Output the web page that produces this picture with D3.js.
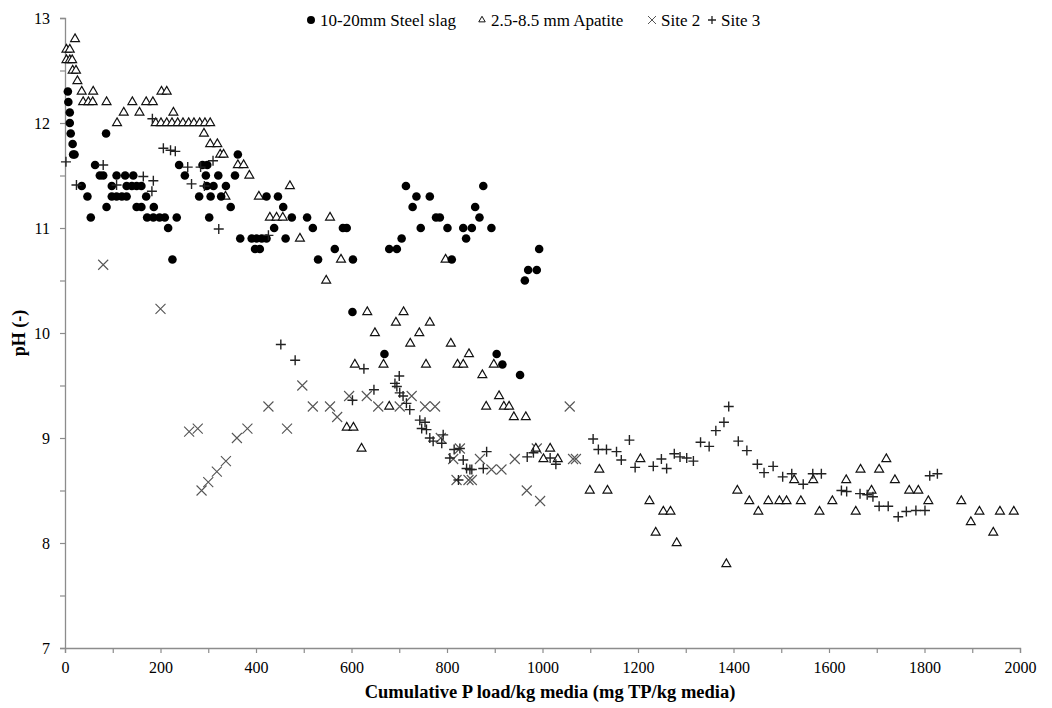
<!DOCTYPE html>
<html>
<head>
<meta charset="utf-8">
<script src="https://cdn.jsdelivr.net/npm/d3@7"></script>
<style>
  body { margin: 0; background: #fff; }
  text { font-family: "Liberation Serif", "Times New Roman", serif; }
</style>
</head>
<body>
<div id="vizDiv"></div>
<script>
var width = 1052;
var height = 708;

// plot area
var plotLeft = 65, plotRight = 1020, plotTop = 18, plotBottom = 648;

var xTicks = [0, 200, 400, 600, 800, 1000, 1200, 1400, 1600, 1800, 2000];
var yTicks = [7, 8, 9, 10, 11, 12, 13];
var legendNames = ["10-20mm Steel slag", "2.5-8.5 mm Apatite", "Site 2", "Site 3"];

// [cumulative P load, pH]
var steelSlag = [
  [6,12.3],[7,12.2],[10,12.1],[10,12.0],[12,11.9],[16,11.8],[17,11.7],[20,11.7],
  [35,11.4],[47,11.3],[54,11.1],[63,11.6],[73,11.5],[80,11.5],[86,11.9],[87,11.2],[98,11.4],
  [98,11.3],[108,11.3],[119,11.3],[129,11.3],[108,11.5],[126,11.5],[143,11.5],
  [129,11.4],[140,11.4],[150,11.4],[160,11.4],[170,11.3],[150,11.2],[160,11.2],[186,11.2],
  [172,11.1],[185,11.1],[198,11.1],[209,11.1],[216,11.0],[225,10.7],[234,11.1],
  [239,11.6],[251,11.5],[288,11.6],[298,11.6],[295,11.5],[321,11.5],[297,11.4],[311,11.4],[337,11.4],
  [281,11.3],[305,11.3],[327,11.3],[302,11.1],[347,11.2],[356,11.5],[362,11.7],
  [367,10.9],[391,10.9],[401,10.9],[412,10.9],[422,10.9],[398,10.8],[408,10.8],
  [422,11.3],[446,11.3],[457,11.2],[475,11.1],[438,11.0],[462,10.9],[507,11.1],[519,11.0],[530,10.7],
  [565,10.8],[582,11.0],[590,11.0],[603,10.7],[602,10.2],
  [669,9.8],[679,10.8],[695,10.8],[705,10.9],[714,11.4],[728,11.2],[736,11.3],[764,11.3],[745,11.0],
  [777,11.1],[785,11.1],[801,11.0],[810,10.7],[834,11.0],[840,10.9],[852,11.0],[859,11.2],[868,11.1],[876,11.4],[893,11.0],
  [904,9.8],[916,9.7],[953,9.6],[963,10.5],[970,10.6],[988,10.6],[993,10.8]
];

var apatite = [
  [21,12.8],[3,12.7],[10,12.7],[3,12.6],[10,12.6],[15,12.6],[16,12.5],[23,12.5],[26,12.4],
  [35,12.3],[59,12.3],[38,12.2],[49,12.2],[58,12.2],[87,12.2],[109,12.0],[123,12.1],[141,12.2],
  [156,12.1],[170,12.2],[184,12.2],[202,12.3],[213,12.3],[227,12.1],
  [190,12.0],[201,12.0],[213,12.0],[224,12.0],[236,12.0],[247,12.0],[259,12.0],[270,12.0],[282,12.0],[293,12.0],[304,12.0],
  [291,11.9],[304,11.8],[319,11.8],[325,11.7],[332,11.7],[362,11.6],[374,11.6],[386,11.5],[336,11.3],[406,11.3],
  [471,11.4],[429,11.1],[443,11.1],[456,11.1],[492,10.9],[555,11.1],[547,10.5],[578,10.7],[797,10.7],
  [633,10.2],[709,10.2],[693,10.1],[764,10.1],[649,10.0],[742,10.0],[723,9.9],[808,9.9],[846,9.8],
  [607,9.7],[667,9.7],[756,9.7],[822,9.7],[834,9.7],[898,9.7],[874,9.6],[909,9.4],[882,9.3],[919,9.3],
  [930,9.3],[940,9.2],[965,9.2],[679,9.3],[590,9.1],[604,9.1],[621,8.9],
  [986,8.9],[1016,8.9],[1002,8.8],[1032,8.8],[1099,8.5],[1119,8.7],[1136,8.5],[1205,8.8],[1224,8.4],
  [1237,8.1],[1253,8.3],[1268,8.3],[1281,8.0],[1385,7.8],[1408,8.5],[1433,8.4],[1452,8.3],[1473,8.4],
  [1496,8.4],[1511,8.4],[1527,8.6],[1541,8.4],[1567,8.6],[1580,8.3],[1607,8.4],[1636,8.6],[1656,8.3],
  [1666,8.7],[1689,8.5],[1705,8.7],[1720,8.8],[1738,8.6],[1768,8.5],[1787,8.5],[1808,8.4],[1877,8.4],
  [1897,8.2],[1915,8.3],[1944,8.1],[1958,8.3],[1987,8.3]
];

var site2 = [
  [80,10.65],[200,10.23],[260,9.06],[278,9.09],[286,8.5],[300,8.58],[318,8.68],[337,8.78],[360,9.0],
  [382,9.09],[426,9.3],[465,9.09],[497,9.5],[519,9.3],[555,9.3],[570,9.2],[595,9.4],[632,9.4],[656,9.3],
  [701,9.3],[726,9.4],[754,9.3],[775,9.3],[787,9.0],[813,8.8],[827,8.9],[820,8.6],[845,8.6],[852,8.6],
  [869,8.8],[893,8.7],[914,8.7],[942,8.8],[967,8.5],[988,8.9],[995,8.4],[1057,9.3],[1064,8.8],[1070,8.8]
];

var site3 = [
  [2,11.63],[24,11.41],[80,11.6],[108,11.41],[164,11.49],[182,11.35],[185,11.45],[183,12.04],
  [206,11.76],[221,11.74],[231,11.73],[257,11.58],[265,11.42],[284,11.58],[292,11.4],[310,11.64],
  [322,10.99],[426,10.93],[452,9.89],[482,9.74],[602,9.36],[626,9.66],[647,9.46],[691,9.52],[695,9.49],
  [700,9.59],[701,9.43],[708,9.4],[715,9.33],[722,9.27],[743,9.17],[754,9.15],[747,9.09],[757,9.08],
  [764,9.0],[771,8.97],[789,8.95],[792,9.03],[806,8.81],[815,8.89],[827,8.9],[834,8.79],[841,8.71],
  [848,8.7],[824,8.6],[852,8.7],[876,8.71],[883,8.87],[968,8.82],[981,8.86],[1016,8.81],[1028,8.75],
  [1106,8.99],[1117,8.89],[1134,8.89],[1155,8.87],[1165,8.79],[1182,8.98],[1194,8.72],[1232,8.73],
  [1249,8.8],[1260,8.71],[1276,8.85],[1288,8.82],[1302,8.81],[1316,8.78],[1331,8.96],[1349,8.92],
  [1363,9.07],[1380,9.15],[1390,9.3],[1410,8.97],[1428,8.88],[1450,8.75],[1464,8.67],[1483,8.73],
  [1503,8.63],[1522,8.66],[1546,8.56],[1566,8.66],[1584,8.66],[1626,8.5],[1637,8.49],[1665,8.47],
  [1680,8.46],[1692,8.44],[1705,8.35],[1724,8.35],[1745,8.25],[1762,8.3],[1782,8.31],[1801,8.31],
  [1811,8.64],[1827,8.66]
];

var svg = d3.select("#vizDiv")
  .append("svg")
  .attr("width", width)
  .attr("height", height);

var x = d3.scaleLinear().domain([0, 2000]).range([plotLeft, plotRight]);
var y = d3.scaleLinear().domain([7, 13]).range([plotBottom, plotTop]);

var axisColor = "#8c8c8c";

// x axis: tick every 100, label every 200
var xAxis = svg.append("g")
  .attr("transform", "translate(0," + plotBottom + ")")
  .call(d3.axisBottom(x).tickValues(d3.range(0, 2001, 100)).tickSize(5)
    .tickFormat(function(d) { return xTicks.indexOf(d) >= 0 ? d : ""; }));

// y axis: tick every 0.5, label every 1
var yAxis = svg.append("g")
  .attr("transform", "translate(" + plotLeft + ",0)")
  .call(d3.axisLeft(y).tickValues(d3.range(7, 13.01, 0.5)).tickSize(5)
    .tickFormat(function(d) { return yTicks.indexOf(d) >= 0 ? d : ""; }));

[xAxis, yAxis].forEach(function(g) {
  g.select(".domain").attr("stroke", axisColor).attr("stroke-width", 1.3);
  g.selectAll(".tick line").attr("stroke", axisColor).attr("stroke-width", 1.2);
  g.selectAll(".tick text")
    .attr("fill", "#000")
    .style("font-size", "16px")
    .style("font-family", "'Liberation Serif', serif");
});
xAxis.selectAll(".tick text").attr("dy", "1.05em");
yAxis.selectAll(".tick text").attr("x", -15).attr("dy", "0.35em");

// axis titles
svg.append("text")
  .attr("x", 550)
  .attr("y", 698)
  .attr("text-anchor", "middle")
  .style("font-size", "18.5px")
  .style("font-weight", "bold")
  .text("Cumulative P load/kg media (mg TP/kg media)");

svg.append("text")
  .attr("transform", "translate(25," + ((plotTop + plotBottom) / 2) + ") rotate(-90)")
  .attr("text-anchor", "middle")
  .style("font-size", "18px")
  .style("font-weight", "bold")
  .text("pH (-)");

// markers
var triPath = d3.symbol().type(d3.symbolTriangle).size(34);
var crossPath = "M-5,-5L5,5M-5,5L5,-5";
var plusPath = "M-5,0H5M0,-5V5";

function drawSeries(data, kind) {
  var g = svg.append("g");
  var sel = g.selectAll("path").data(data).enter().append("path")
    .attr("transform", function(d) { return "translate(" + x(d[0]) + "," + y(d[1]) + ")"; });
  if (kind == "circle") {
    sel.attr("d", d3.symbol().type(d3.symbolCircle).size(58)).attr("fill", "#000");
  } else if (kind == "triangle") {
    sel.attr("d", triPath).attr("fill", "#fff").attr("stroke", "#111").attr("stroke-width", 1.2);
  } else if (kind == "cross") {
    sel.attr("d", crossPath).attr("fill", "none").attr("stroke", "#555").attr("stroke-width", 1.1);
  } else {
    sel.attr("d", plusPath).attr("fill", "none").attr("stroke", "#222").attr("stroke-width", 1.4);
  }
}

drawSeries(site2, "cross");
drawSeries(apatite, "triangle");
drawSeries(steelSlag, "circle");
drawSeries(site3, "plus");

// legend
var legendX = [311, 482, 652, 712];
var legendKinds = ["circle", "triangle", "cross", "plus"];
var legend = svg.append("g");
legendNames.forEach(function(name, i) {
  var s = legend.append("path").attr("transform", "translate(" + legendX[i] + ",20)");
  if (legendKinds[i] == "circle") s.attr("d", d3.symbol().type(d3.symbolCircle).size(50)).attr("fill", "#000");
  else if (legendKinds[i] == "triangle") s.attr("d", d3.symbol().type(d3.symbolTriangle).size(18)).attr("fill", "#fff").attr("stroke", "#111");
  else if (legendKinds[i] == "cross") s.attr("d", "M-4,-4L4,4M-4,4L4,-4").attr("stroke", "#555").attr("fill", "none");
  else s.attr("d", "M-4,0H4M0,-4V4").attr("stroke", "#222").attr("stroke-width", 1.3).attr("fill", "none");
  legend.append("text")
    .attr("x", legendX[i] + 9)
    .attr("y", 26)
    .style("font-size", "17px")
    .text(name);
});
</script>
</body>
</html>
